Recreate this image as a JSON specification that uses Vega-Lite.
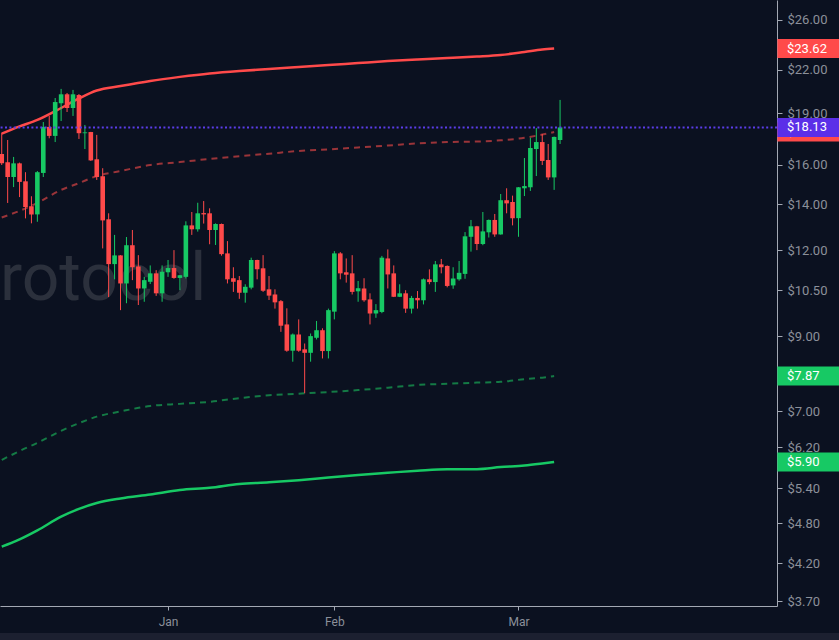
{
  "$schema": "https://vega.github.io/schema/vega-lite/v6.json",
  "width": 777,
  "height": 606,
  "autosize": {"type": "none"},
  "padding": {"left": 0, "top": 0, "right": 62, "bottom": 34},
  "background": "#0b1120",
  "config": {
    "view": {"stroke": null},
    "font": "Roboto",
    "scale": {"continuousPadding": 0},
    "axis": {"grid": false, "title": null, "labelFont": "Roboto", "labelColor": "#8b909a", "domainColor": "#a3a8b3", "tickColor": "#a3a8b3", "labelFlush": false, "labelOverlap": false}
  },
  "datasets": {
    "candles": [
      {"i":0,"o":16.58,"h":17.79,"l":15.98,"c":16.07},
      {"i":1,"o":16.13,"h":17.38,"l":14.07,"c":15.35},
      {"i":2,"o":15.35,"h":16.42,"l":14.84,"c":16.07},
      {"i":3,"o":16.07,"h":16.11,"l":14.35,"c":15.10},
      {"i":4,"o":15.13,"h":15.60,"l":13.36,"c":13.88},
      {"i":5,"o":13.91,"h":14.39,"l":13.14,"c":13.54},
      {"i":6,"o":13.54,"h":15.66,"l":13.21,"c":15.60},
      {"i":7,"o":15.56,"h":18.46,"l":15.35,"c":18.16},
      {"i":8,"o":18.16,"h":18.84,"l":17.48,"c":17.62},
      {"i":9,"o":17.62,"h":20.01,"l":17.26,"c":19.74},
      {"i":10,"o":19.66,"h":20.63,"l":18.52,"c":20.26},
      {"i":11,"o":20.26,"h":20.35,"l":19.09,"c":19.35},
      {"i":12,"o":19.35,"h":20.56,"l":18.84,"c":20.26},
      {"i":13,"o":20.21,"h":20.28,"l":17.44,"c":17.78},
      {"i":14,"o":17.78,"h":18.28,"l":16.86,"c":17.83},
      {"i":15,"o":17.85,"h":17.86,"l":16.20,"c":16.23},
      {"i":16,"o":16.29,"h":17.68,"l":15.20,"c":15.35},
      {"i":17,"o":15.39,"h":15.81,"l":12.08,"c":13.27},
      {"i":18,"o":13.32,"h":13.59,"l":10.26,"c":11.46},
      {"i":19,"o":11.46,"h":12.64,"l":10.89,"c":11.80},
      {"i":20,"o":11.80,"h":11.81,"l":9.82,"c":10.74},
      {"i":21,"o":10.74,"h":12.55,"l":10.05,"c":12.21},
      {"i":22,"o":12.21,"h":12.85,"l":10.86,"c":11.34},
      {"i":23,"o":11.37,"h":11.81,"l":9.99,"c":10.56},
      {"i":24,"o":10.56,"h":10.98,"l":10.10,"c":10.86},
      {"i":25,"o":10.80,"h":11.41,"l":10.72,"c":11.11},
      {"i":26,"o":11.11,"h":11.23,"l":10.30,"c":10.39},
      {"i":27,"o":10.39,"h":11.41,"l":10.10,"c":11.17},
      {"i":28,"o":11.15,"h":11.62,"l":10.98,"c":11.31},
      {"i":29,"o":11.31,"h":12.01,"l":10.91,"c":10.94},
      {"i":30,"o":10.94,"h":11.05,"l":10.50,"c":11.04},
      {"i":31,"o":10.98,"h":13.23,"l":10.92,"c":13.05},
      {"i":32,"o":13.05,"h":13.65,"l":12.64,"c":12.88},
      {"i":33,"o":12.88,"h":14.08,"l":12.78,"c":13.59},
      {"i":34,"o":13.60,"h":14.16,"l":13.13,"c":13.54},
      {"i":35,"o":13.59,"h":13.82,"l":12.25,"c":12.85},
      {"i":36,"o":12.85,"h":13.14,"l":12.22,"c":13.11},
      {"i":37,"o":13.11,"h":13.13,"l":11.79,"c":11.85},
      {"i":38,"o":11.88,"h":12.38,"l":10.74,"c":10.89},
      {"i":39,"o":10.93,"h":11.34,"l":10.44,"c":10.80},
      {"i":40,"o":10.86,"h":11.01,"l":10.20,"c":10.41},
      {"i":41,"o":10.41,"h":10.71,"l":10.07,"c":10.62},
      {"i":42,"o":10.59,"h":11.71,"l":10.53,"c":11.62},
      {"i":43,"o":11.62,"h":11.63,"l":10.89,"c":11.26},
      {"i":44,"o":11.30,"h":11.81,"l":10.44,"c":10.48},
      {"i":45,"o":10.53,"h":11.01,"l":10.16,"c":10.31},
      {"i":46,"o":10.35,"h":10.53,"l":9.87,"c":10.08},
      {"i":47,"o":10.12,"h":10.16,"l":9.13,"c":9.32},
      {"i":48,"o":9.36,"h":9.88,"l":8.54,"c":8.57},
      {"i":49,"o":8.57,"h":9.08,"l":8.26,"c":9.05},
      {"i":50,"o":9.05,"h":9.52,"l":8.54,"c":8.57},
      {"i":51,"o":8.61,"h":8.78,"l":7.43,"c":8.51},
      {"i":52,"o":8.51,"h":9.08,"l":8.26,"c":9.00},
      {"i":53,"o":8.95,"h":9.47,"l":8.90,"c":9.18},
      {"i":54,"o":9.18,"h":9.24,"l":8.35,"c":8.56},
      {"i":55,"o":8.56,"h":9.87,"l":8.35,"c":9.82},
      {"i":56,"o":9.77,"h":11.97,"l":9.52,"c":11.88},
      {"i":57,"o":11.88,"h":11.93,"l":10.89,"c":11.11},
      {"i":58,"o":11.15,"h":11.68,"l":10.77,"c":11.06},
      {"i":59,"o":11.11,"h":11.81,"l":10.35,"c":10.44},
      {"i":60,"o":10.46,"h":10.83,"l":10.10,"c":10.57},
      {"i":61,"o":10.56,"h":10.93,"l":10.10,"c":10.15},
      {"i":62,"o":10.18,"h":10.39,"l":9.36,"c":9.71},
      {"i":63,"o":9.71,"h":10.02,"l":9.57,"c":9.82},
      {"i":64,"o":9.76,"h":11.78,"l":9.72,"c":11.71},
      {"i":65,"o":11.68,"h":12.04,"l":10.56,"c":11.07},
      {"i":66,"o":11.11,"h":11.41,"l":10.26,"c":10.27},
      {"i":67,"o":10.27,"h":10.71,"l":10.26,"c":10.39},
      {"i":68,"o":10.39,"h":10.50,"l":9.73,"c":9.87},
      {"i":69,"o":9.87,"h":10.30,"l":9.71,"c":10.23},
      {"i":70,"o":10.23,"h":10.47,"l":9.87,"c":10.15},
      {"i":71,"o":10.15,"h":10.92,"l":10.01,"c":10.89},
      {"i":72,"o":10.89,"h":11.26,"l":10.71,"c":10.79},
      {"i":73,"o":10.79,"h":11.58,"l":10.44,"c":11.45},
      {"i":74,"o":11.45,"h":11.66,"l":11.11,"c":11.34},
      {"i":75,"o":11.39,"h":11.41,"l":10.60,"c":10.65},
      {"i":76,"o":10.67,"h":11.34,"l":10.55,"c":10.92},
      {"i":77,"o":10.89,"h":11.58,"l":10.84,"c":11.13},
      {"i":78,"o":11.09,"h":12.76,"l":10.91,"c":12.58},
      {"i":79,"o":12.56,"h":13.29,"l":11.95,"c":13.01},
      {"i":80,"o":13.01,"h":13.03,"l":12.01,"c":12.26},
      {"i":81,"o":12.26,"h":13.65,"l":12.21,"c":12.79},
      {"i":82,"o":12.75,"h":13.31,"l":12.53,"c":13.29},
      {"i":83,"o":13.29,"h":13.56,"l":12.56,"c":12.66},
      {"i":84,"o":12.66,"h":14.50,"l":12.65,"c":14.20},
      {"i":85,"o":14.20,"h":14.78,"l":13.59,"c":14.05},
      {"i":86,"o":14.11,"h":14.42,"l":13.05,"c":13.37},
      {"i":87,"o":13.37,"h":14.84,"l":12.56,"c":14.83},
      {"i":88,"o":14.78,"h":16.36,"l":14.40,"c":14.89},
      {"i":89,"o":14.83,"h":17.51,"l":14.65,"c":16.92},
      {"i":90,"o":16.86,"h":18.09,"l":15.40,"c":17.26},
      {"i":91,"o":17.26,"h":17.73,"l":15.98,"c":16.20},
      {"i":92,"o":16.25,"h":17.15,"l":15.20,"c":15.33},
      {"i":93,"o":15.33,"h":17.58,"l":14.70,"c":17.56},
      {"i":94,"o":17.38,"h":19.88,"l":17.15,"c":18.13}
    ],
    "bands": [
      {"i":0,"upper":17.75,"upperMid":13.40,"lowerMid":5.94,"lower":4.44},
      {"i":3,"upper":18.19,"upperMid":13.70,"lowerMid":6.12,"lower":4.55},
      {"i":6,"upper":18.59,"upperMid":14.07,"lowerMid":6.29,"lower":4.69},
      {"i":10,"upper":19.35,"upperMid":14.70,"lowerMid":6.55,"lower":4.91},
      {"i":13,"upper":19.98,"upperMid":15.04,"lowerMid":6.72,"lower":5.04},
      {"i":16,"upper":20.52,"upperMid":15.40,"lowerMid":6.87,"lower":5.14},
      {"i":20,"upper":20.83,"upperMid":15.66,"lowerMid":6.99,"lower":5.22},
      {"i":25,"upper":21.19,"upperMid":15.98,"lowerMid":7.12,"lower":5.29},
      {"i":30,"upper":21.48,"upperMid":16.14,"lowerMid":7.17,"lower":5.37},
      {"i":35,"upper":21.73,"upperMid":16.31,"lowerMid":7.22,"lower":5.41},
      {"i":40,"upper":21.91,"upperMid":16.46,"lowerMid":7.31,"lower":5.48},
      {"i":45,"upper":22.05,"upperMid":16.60,"lowerMid":7.38,"lower":5.51},
      {"i":50,"upper":22.20,"upperMid":16.75,"lowerMid":7.42,"lower":5.55},
      {"i":55,"upper":22.35,"upperMid":16.84,"lowerMid":7.46,"lower":5.60},
      {"i":60,"upper":22.50,"upperMid":16.95,"lowerMid":7.51,"lower":5.65},
      {"i":65,"upper":22.65,"upperMid":17.06,"lowerMid":7.57,"lower":5.69},
      {"i":70,"upper":22.77,"upperMid":17.18,"lowerMid":7.64,"lower":5.73},
      {"i":75,"upper":22.88,"upperMid":17.26,"lowerMid":7.67,"lower":5.76},
      {"i":80,"upper":23.00,"upperMid":17.29,"lowerMid":7.70,"lower":5.76},
      {"i":84,"upper":23.12,"upperMid":17.36,"lowerMid":7.72,"lower":5.80},
      {"i":88,"upper":23.35,"upperMid":17.51,"lowerMid":7.79,"lower":5.83},
      {"i":91,"upper":23.54,"upperMid":17.70,"lowerMid":7.83,"lower":5.87},
      {"i":93,"upper":23.62,"upperMid":17.85,"lowerMid":7.87,"lower":5.90}
    ],
    "badgesBack": [
      {"label":"$17.85","v":17.85,"kind":"mid"}
    ],
    "badges": [
      {"label":"$23.62","v":23.62,"kind":"upper"},
      {"label":"$18.13","v":18.13,"kind":"price"},
      {"label":"$7.87","v":7.87,"kind":"lowerMid"},
      {"label":"$5.90","v":5.90,"kind":"lower"}
    ],
    "watermark": [{"label":"rotocol"}],
    "footer": [{"label":""}]
  },
  "layer": [
    {
      "data": {"name": "footer"},
      "mark": {"type": "rect", "color": "#1c2030"},
      "encoding": {
        "x": {"datum": -0.3, "type": "quantitative", "scale": {"domain": [-0.29, 130.52], "nice": false, "zero": false, "padding": 0}},
        "x2": {"datum": 142},
        "y": {"datum": 3.324, "type": "quantitative", "scale": {"type": "log", "domain": [3.639, 27.8], "nice": false, "padding": 0}},
        "y2": {"datum": 3.0}
      }
    },
    {
      "data": {"name": "watermark"},
      "mark": {"type": "text", "align": "left", "baseline": "alphabetic", "fontSize": 66, "font": "Roboto", "color": "#2b303c"},
      "encoding": {
        "x": {"datum": -0.29, "type": "quantitative", "scale": {"domain": [-0.29, 130.52], "nice": false, "zero": false, "padding": 0}},
        "y": {"datum": 10.16, "type": "quantitative", "scale": {"type": "log", "domain": [3.639, 27.8], "nice": false, "padding": 0}},
        "text": {"field": "label"}
      }
    },
    {
      "data": {"name": "bands"},
      "mark": {"type": "line", "color": "#ff4a4a", "strokeWidth": 2.5, "interpolate": "monotone"},
      "encoding": {
        "x": {"field": "i", "type": "quantitative", "title": null,
              "scale": {"domain": [-0.29, 130.52], "nice": false, "zero": false, "padding": 0},
              "axis": {"orient": "bottom", "values": [28, 56, 87], "labelExpr": "datum.value < 40 ? 'Jan' : datum.value < 70 ? 'Feb' : 'Mar'", "tickSize": 4, "labelPadding": 6, "labelFontSize": 12}},
        "y": {"field": "upper", "type": "quantitative", "title": null,
              "scale": {"type": "log", "domain": [3.639, 27.8], "nice": false, "padding": 0},
              "axis": {"orient": "right", "values": [3.7, 4.2, 4.8, 5.4, 6.2, 7, 9, 10.5, 12, 14, 16, 19, 22, 26], "format": "$.2f", "tickSize": 5, "labelPadding": 5, "labelFontSize": 13, "labelBaseline": "middle"}}
      }
    },
    {
      "data": {"name": "bands"},
      "mark": {"type": "line", "color": "#9a3439", "strokeWidth": 2, "strokeDash": [6, 5], "interpolate": "monotone"},
      "encoding": {
        "x": {"field": "i", "type": "quantitative", "title": null, "scale": {"domain": [-0.29, 130.52], "nice": false, "zero": false, "padding": 0}},
        "y": {"field": "upperMid", "type": "quantitative", "title": null, "scale": {"type": "log", "domain": [3.639, 27.8], "nice": false, "padding": 0}}
      }
    },
    {
      "data": {"name": "bands"},
      "mark": {"type": "line", "color": "#147a45", "strokeWidth": 2, "strokeDash": [6, 5], "interpolate": "monotone"},
      "encoding": {
        "x": {"field": "i", "type": "quantitative", "title": null, "scale": {"domain": [-0.29, 130.52], "nice": false, "zero": false, "padding": 0}},
        "y": {"field": "lowerMid", "type": "quantitative", "title": null, "scale": {"type": "log", "domain": [3.639, 27.8], "nice": false, "padding": 0}}
      }
    },
    {
      "data": {"name": "bands"},
      "mark": {"type": "line", "color": "#17c964", "strokeWidth": 2.5, "interpolate": "monotone"},
      "encoding": {
        "x": {"field": "i", "type": "quantitative", "title": null, "scale": {"domain": [-0.29, 130.52], "nice": false, "zero": false, "padding": 0}},
        "y": {"field": "lower", "type": "quantitative", "title": null, "scale": {"type": "log", "domain": [3.639, 27.8], "nice": false, "padding": 0}}
      }
    },
    {
      "data": {"name": "candles"},
      "mark": {"type": "rule", "strokeWidth": 1},
      "encoding": {
        "x": {"field": "i", "type": "quantitative", "title": null, "scale": {"domain": [-0.29, 130.52], "nice": false, "zero": false, "padding": 0}},
        "y": {"field": "l", "type": "quantitative", "title": null, "scale": {"type": "log", "domain": [3.639, 27.8], "nice": false, "padding": 0}},
        "y2": {"field": "h"},
        "color": {"condition": {"test": "datum.c >= datum.o", "value": "#17c964"}, "value": "#ff4a4a"}
      }
    },
    {
      "data": {"name": "candles"},
      "mark": {"type": "bar", "width": 4.6},
      "encoding": {
        "x": {"field": "i", "type": "quantitative", "title": null, "scale": {"domain": [-0.29, 130.52], "nice": false, "zero": false, "padding": 0}},
        "y": {"field": "o", "type": "quantitative", "title": null, "scale": {"type": "log", "domain": [3.639, 27.8], "nice": false, "padding": 0}},
        "y2": {"field": "c"},
        "color": {"condition": {"test": "datum.c >= datum.o", "value": "#17c964"}, "value": "#ff4a4a"}
      }
    },
    {
      "data": {"name": "badges"},
      "transform": [{"filter": "datum.kind == 'price'"}],
      "mark": {"type": "rule", "color": "#5b3de8", "strokeWidth": 2, "strokeDash": [2, 2.4]},
      "encoding": {
        "y": {"field": "v", "type": "quantitative", "title": null, "scale": {"type": "log", "domain": [3.639, 27.8], "nice": false, "padding": 0}}
      }
    },
    {
      "data": {"name": "badgesBack"},
      "mark": {"type": "tick", "orient": "horizontal", "size": 62, "thickness": 19, "opacity": 1, "color": "#ff4a4a"},
      "encoding": {
        "x": {"datum": 135.8, "type": "quantitative", "scale": {"domain": [-0.29, 130.52], "nice": false, "zero": false, "padding": 0}},
        "y": {"field": "v", "type": "quantitative", "title": null, "scale": {"type": "log", "domain": [3.639, 27.8], "nice": false, "padding": 0}}
      }
    },
    {
      "data": {"name": "badgesBack"},
      "mark": {"type": "text", "align": "left", "baseline": "middle", "fontSize": 13, "font": "Roboto", "color": "#ffffff"},
      "encoding": {
        "x": {"datum": 132.2, "type": "quantitative", "scale": {"domain": [-0.29, 130.52], "nice": false, "zero": false, "padding": 0}},
        "y": {"field": "v", "type": "quantitative", "title": null, "scale": {"type": "log", "domain": [3.639, 27.8], "nice": false, "padding": 0}},
        "text": {"field": "label"}
      }
    },
    {
      "data": {"name": "badges"},
      "mark": {"type": "tick", "orient": "horizontal", "size": 62, "thickness": 19, "opacity": 1},
      "encoding": {
        "x": {"datum": 135.8, "type": "quantitative", "scale": {"domain": [-0.29, 130.52], "nice": false, "zero": false, "padding": 0}},
        "y": {"field": "v", "type": "quantitative", "title": null, "scale": {"type": "log", "domain": [3.639, 27.8], "nice": false, "padding": 0}},
        "color": {"field": "kind", "type": "nominal", "legend": null,
                  "scale": {"domain": ["upper", "price", "lowerMid", "lower"], "range": ["#ff4a4a", "#5b2fe8", "#17c964", "#17c964"]}}
      }
    },
    {
      "data": {"name": "badges"},
      "mark": {"type": "text", "align": "left", "baseline": "middle", "fontSize": 13, "font": "Roboto", "color": "#ffffff"},
      "encoding": {
        "x": {"datum": 132.2, "type": "quantitative", "scale": {"domain": [-0.29, 130.52], "nice": false, "zero": false, "padding": 0}},
        "y": {"field": "v", "type": "quantitative", "title": null, "scale": {"type": "log", "domain": [3.639, 27.8], "nice": false, "padding": 0}},
        "text": {"field": "label"}
      }
    }
  ]
}
